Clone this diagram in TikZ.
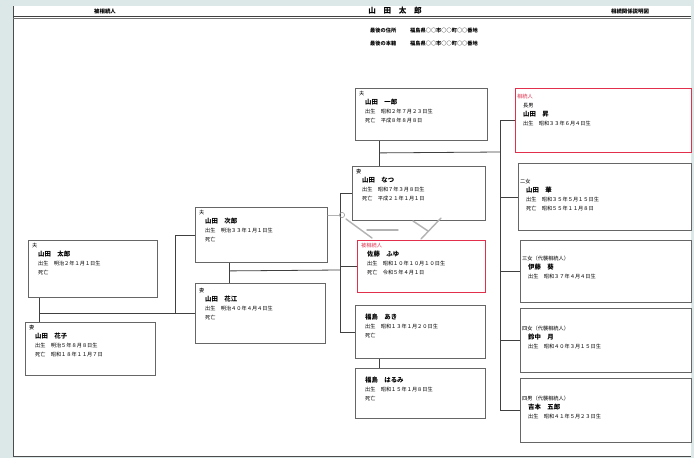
\documentclass[tikz,border=0pt]{standalone}
\usepackage{fontspec}
\setmainfont{Noto Sans CJK JP}
\usetikzlibrary{positioning}
\definecolor{bgc}{HTML}{DCE7E7}
\definecolor{redl}{HTML}{E2304C}
\newcommand{\ind}{\hspace*{6pt}}
\newcommand{\nm}[1]{{\fontsize{6.4}{9}\selectfont\bfseries #1}}
\tikzset{pb/.style 2 args={draw=black!60,line width=.9pt,anchor=north west,inner sep=0pt,minimum width=#1pt,minimum height=#2pt},
 rb/.style={draw=redl,line width=1pt},
 tx/.style={anchor=north west,inner sep=0pt,align=left,font=\fontsize{5.2}{9}\selectfont},
 ln/.style={draw=black!75,line width=.8pt},
 dl/.style={draw=black!75,double,double distance=1.6pt,line width=.7pt},
 ghost/.style={draw=black!30,line width=1.4pt,line cap=round}}

\begin{document}
\begin{tikzpicture}[x=1pt,y=-1pt]
\useasboundingbox (0,0) rectangle (694,458);
\fill[bgc] (0,0) rectangle (694,458);
\fill[white] (13,6) rectangle (691,456);
\draw[black!70,line width=.9pt] (13,6) -- (13,456) -- (691,456);
\draw[black!75,line width=.9pt] (13,16) -- (691,16);\draw[black!55,line width=.5pt] (13,18.6) -- (691,18.6);
% header
\node[font=\fontsize{5.4}{6}\selectfont\bfseries] (h1) at (105,11) {被相続人};
\node[font=\fontsize{7.6}{8}\selectfont\bfseries] (h2) at (395,11) {山　田　太　郎};
\node[font=\fontsize{5.4}{6}\selectfont\bfseries] (h3) at (630,11) {相続関係説明図};
\node[tx,font=\fontsize{5.2}{13}\selectfont\bfseries] (adr) at (370,28) {最後の住所\hspace*{14pt}福島県○○市○○町○○番地\\最後の本籍\hspace*{14pt}福島県○○市○○町○○番地};
% boxes
\node[pb={129}{57}] (taro) at (28,240) {};\node[pb={130}{53}] (hanako) at (25,322) {};
\node[pb={132}{55}] (jiro) at (195,207) {};\node[pb={130}{60}] (hanae) at (195,283) {};
\node[pb={132}{52}] (ichiro) at (355,88) {};\node[pb={133}{54}] (natsu) at (352,166) {};
\node[pb={128}{52},rb] (fuyu) at (357,240) {};\node[pb={130}{53}] (aki) at (355,305) {};
\node[pb={130}{50}] (harumi) at (355,368) {};
\node[pb={176}{64},rb] (noboru) at (515,88) {};\node[pb={173}{67}] (hana) at (518,163) {};
\node[pb={171}{62}] (ito) at (520,240) {};\node[pb={171}{64}] (suzu) at (520,308) {};
\node[pb={171}{64}] (shiro) at (520,378) {};
% texts
\node[tx] (ttaro) at ([shift={(4,3)}]taro.north west) {夫\\\ind\nm{山田　太郎}\\\ind 出生　明治２年１月１日生\\\ind 死亡};
\node[tx] (thanako) at ([shift={(4,3)}]hanako.north west) {妻\\\ind\nm{山田　花子}\\\ind 出生　明治５年８月８日生\\\ind 死亡　昭和１８年１１月７日};
\node[tx] (tjiro) at ([shift={(4,3)}]jiro.north west) {夫\\\ind\nm{山田　次郎}\\\ind 出生　明治３３年１月１日生\\\ind 死亡};
\node[tx] (thanae) at ([shift={(4,5)}]hanae.north west) {妻\\\ind\nm{山田　花江}\\\ind 出生　明治４０年４月４日生\\\ind 死亡};
\node[tx] (tichiro) at ([shift={(4,3)}]ichiro.north west) {夫\\\ind\nm{山田　一郎}\\\ind 出生　昭和２年７月２３日生\\\ind 死亡　平成８年８月８日};
\node[tx] (tnatsu) at ([shift={(4,3)}]natsu.north west) {妻\\\ind\nm{山田　なつ}\\\ind 出生　昭和７年３月８日生\\\ind 死亡　平成２１年１月１日};
\node[tx] (tfuyu) at ([shift={(4,3)}]fuyu.north west) {\textcolor{redl}{被相続人}\\\ind\nm{佐藤　ふゆ}\\\ind 出生　昭和１０年１０月１０日生\\\ind 死亡　令和５年４月１日};
\node[tx] (taki) at ([shift={(10,9)}]aki.north west) {\nm{福島　あき}\\出生　昭和１３年１月２０日生\\死亡};
\node[tx] (tharumi) at ([shift={(10,9)}]harumi.north west) {\nm{福島　はるみ}\\出生　昭和１５年１月８日生\\死亡};
\node[tx] (tnoboru) at ([shift={(2,6)}]noboru.north west) {\textcolor{redl}{相続人}\\\ind 長男\\\ind\nm{山田　昇}\\\ind 出生　昭和３３年６月４日生};
\node[tx] (thana) at ([shift={(2,16)}]hana.north west) {二女\\\ind\nm{山田　華}\\\ind 出生　昭和３５年５月１５日生\\\ind 死亡　昭和５５年１１月８日};
\node[tx] (tito) at ([shift={(2,16)}]ito.north west) {三女（代襲相続人）\\\ind\nm{伊藤　葵}\\\ind 出生　昭和３７年４月４日生};
\node[tx] (tsuzu) at ([shift={(2,18)}]suzu.north west) {四女（代襲相続人）\\\ind\nm{鈴中　月}\\\ind 出生　昭和４０年３月１５日生};
\node[tx] (tshiro) at ([shift={(2,18)}]shiro.north west) {四男（代襲相続人）\\\ind\nm{吉本　五郎}\\\ind 出生　昭和４１年５月２３日生};
% connectors
\draw[dl] ([xshift=10pt]taro.south west) -- ([xshift=10pt]taro.south west |- hanako.north);
\coordinate (k1) at ([xshift=12pt]taro.south west |- hanae.west);
\draw[ln] (k1) -- (hanae.west);\draw[ln] (k1 -| 175,0) |- (jiro.west);
\draw[dl] ([xshift=33pt]jiro.south west) -- ([xshift=33pt]jiro.south west |- hanae.north);
\coordinate (k2) at (340,270);
\draw[ln] ([shift={(35,8)}]jiro.south west) -- (k2);
\draw[ln] (natsu.west -| k2) -- (aki.west -| k2);
\foreach \c in {natsu,fuyu,aki}{\draw[ln] (\c.west -| k2) -- (\c.west);}
\draw[dl] ([xshift=23pt]ichiro.south west) -- ([xshift=23pt]ichiro.south west |- natsu.north);
\draw[dl] ([xshift=23pt]aki.south west) -- ([xshift=23pt]aki.south west |- harumi.north);
\coordinate (k3) at (500,152);
\draw[ln] ([shift={(25,12)}]ichiro.south west) -- (k3);
\draw[ln] (noboru.west -| k3) -- (shiro.west -| k3);
\foreach \c in {noboru,hana,ito,suzu,shiro}{\draw[ln] (\c.west -| k3) -- (\c.west);}
% pencil marks
\draw[ghost,line width=.7pt] (jiro.east |- 0,215) -- (339,215);\draw[black!40,line width=.6pt] (342,215) circle (2.6);
\draw[ghost] (346,219) -- (372,238);\draw[ghost] (367,230) -- (398,230);
\draw[ghost] (413,221) -- (428,231);\draw[ghost] (441,218) -- (421,239);
\end{tikzpicture}
\end{document}
